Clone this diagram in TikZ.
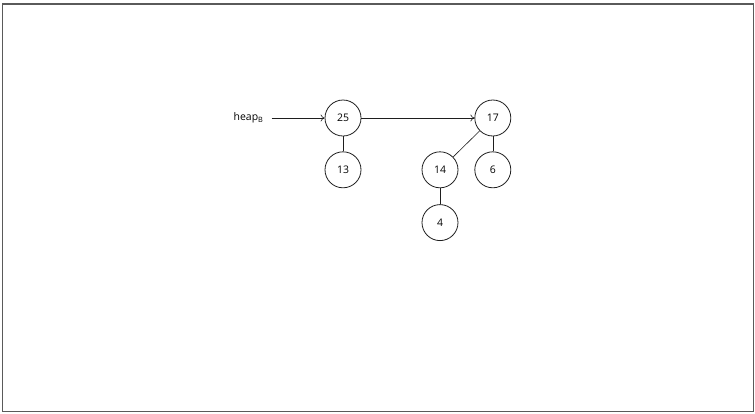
\documentclass[tikz,border=0pt]{standalone}
\usepackage{fontspec}
\setmainfont{Open Sans}
\usetikzlibrary{positioning,arrows.meta}
\definecolor{framegray}{RGB}{90,90,90}
\definecolor{heapblack}{RGB}{30,30,30}

\begin{document}
\begin{tikzpicture}[x=1bp, y=-1bp, node distance=15bp,
    heapnode/.style={draw=heapblack, circle, line width=0.8bp, minimum size=36bp, inner sep=0pt, font=\fontsize{10.5}{12}\selectfont},
    link/.style={draw=heapblack, line width=0.6bp},
    ptr/.style={link, -{To[length=4bp, width=7bp]}}]
    \useasboundingbox (0,0) rectangle (755,413);
    \draw[framegray, line width=1.5bp] (2.5,4) rectangle (753.5,411.5);

    \node[heapnode] at (343,118) (n25) {25};
    \node[heapnode, below=of n25] (n13) {13};
    \node[heapnode, right=113bp of n25] (n17) {17};
    \node[heapnode, below=of n17] (n6) {6};
    \node[heapnode, left=16bp of n6] (n14) {14};
    \node[heapnode, below=16bp of n14] (n4) {4};
    \node[left=53bp of n25, inner xsep=8bp, inner ysep=0pt, font=\fontsize{10.5}{12}\selectfont] (heap) {heap\textsubscript{B}};

    \draw[ptr] (heap) -- (n25);
    \draw[ptr] (n25) -- (n17);
    \draw[link] (n25) -- (n13);
    \draw[link] (n17) -- (n14);
    \draw[link] (n17) -- (n6);
    \draw[link] (n14) -- (n4);
\end{tikzpicture}
\end{document}
